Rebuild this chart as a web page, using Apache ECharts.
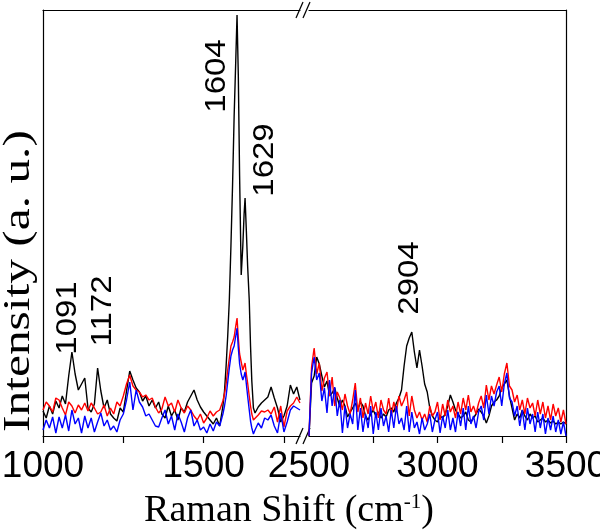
<!DOCTYPE html>
<html>
<head>
<meta charset="utf-8">
<script src="https://cdn.jsdelivr.net/npm/echarts@6/dist/echarts.min.js"></script>
<style>html,body{margin:0;padding:0;background:#fff}#c{width:600px;height:532px}</style>
</head>
<body>
<div id="c"></div>
<script>
// ---- data (intensity in arbitrary units) ----
var leftWavenumbers = [1000,1010,1020,1030,1040,1050,1060,1070,1080,1090,1100,1110,1120,1130,1140,1150,1160,1170,1180,1190,1200,1210,1220,1230,1240,1250,1260,1270,1280,1290,1300,1310,1320,1330,1340,1350,1360,1370,1380,1390,1400,1410,1420,1430,1440,1450,1460,1470,1480,1490,1500,1510,1520,1530,1540,1550,1560,
  1565,1570,1575,1580,1585,1590,1595,1600,1604,1608,1612,1617,1622,1626,1629,1633,1637,1642,1646,1650,1655,
  1660,1670,1680,1690,1700,1710,1720,1730,1740,1750,1760,1770,1780,1790,1800];
var leftBlack = [25,18,30,22,35,28,40,32,60,84,62,46,52,58,28,24,32,68,45,28,36,22,18,15,28,24,45,65,56,48,44,35,40,30,36,28,34,22,18,30,20,26,16,28,24,34,40,46,36,29,24,20,16,12,18,10,30,
  45,70,100,136,190,250,320,375,421,360,260,161,190,222,238,205,170,136,90,55,28,
  23,29,33,36,39,49,38,28,14,20,30,51,42,49,36];
var leftRed = [26,34,30,24,38,36,28,21,34,30,23,31,26,33,25,33,28,22,24,31,20,28,22,34,30,40,52,61,50,46,44,39,41,36,38,29,23,27,39,30,33,24,36,28,23,30,26,20,16,22,13,18,25,20,24,26,35,
  42,52,66,78,90,94,99,110,118,98,82,74,66,70,73,62,53,40,30,22,16,
  18,21,25,24,26,22,29,14,30,9,25,30,33,39,33];
var leftBlue = [6,16,8,19,3,19,8,21,5,26,12,18,3,20,8,18,4,14,23,10,16,6,10,4,16,22,36,54,26,46,34,29,20,22,16,10,9,18,26,12,20,6,22,14,4,18,26,10,16,6,9,3,12,5,14,10,22,
  30,40,54,68,80,86,90,100,108,88,72,62,56,60,64,52,40,26,15,8,2,
  6,13,8,18,16,21,10,3,23,4,14,26,30,28,26];

var rightWavenumbers = [2500,2510,2520,2530,2540,2550,2560,2570,2580,2590,2600,2610,2620,2630,2640,2650,2660,2670,2680,2690,2700,2710,2720,2730,2740,2750,2760,2770,2780,2790,2800,2810,2820,2830,2840,2850,2860,2870,2880,2890,2900,2910,2920,2930,2940,2950,2960,2970,2980,2990,3000,3010,3020,3030,3040,3050,3060,3070,3080,3090,3100,3110,3120,3130,3140,3150,3160,3170,3180,3190,3200,3210,3220,3230,3240,3250,3260,3270,3280,3290,3300,3310,3320,3330,3340,3350,3360,3370,3380,3390,3400,3410,3420,3430,3440,3450,3460,3470,3480,3490,3500];
var rightBlack = [0,53,60,79,72,60,49,55,40,43,48,38,29,36,30,19,24,28,33,26,34,30,20,16,22,26,20,24,18,22,19,26,28,24,33,38,46,70,90,98,104,84,68,86,70,52,44,28,20,16,14,20,18,22,30,41,34,26,22,18,20,24,16,14,18,22,27,24,20,13,20,30,34,36,40,48,52,56,40,28,16,22,18,26,20,16,22,18,20,14,16,18,14,16,13,15,12,14,12,14,12];
var rightRed = [0,69,88,62,73,45,58,64,40,59,30,44,38,26,42,30,22,36,53,24,38,18,33,22,40,25,34,18,36,26,22,38,20,34,24,40,30,36,44,20,40,26,18,24,16,22,14,30,20,24,34,16,32,20,36,24,30,18,34,22,38,26,41,24,30,22,33,40,28,51,36,50,42,51,59,44,62,73,50,46,34,41,26,36,22,38,28,33,20,36,22,34,18,30,16,32,20,28,14,26,12];
var rightBlue = [0,63,79,56,63,35,48,23,56,30,49,20,36,3,30,8,22,12,46,6,28,4,22,8,30,2,24,6,28,10,20,4,26,8,30,12,18,6,30,4,24,8,14,2,18,6,12,22,4,16,24,3,20,8,26,6,18,4,24,10,28,6,30,12,20,8,24,30,16,41,22,40,30,44,50,30,52,63,38,34,20,30,10,26,6,28,12,22,4,24,8,22,2,18,6,20,4,16,2,14,0];

var leftTicks = [1000,1250,1500,1750];
var leftLabels = [1000,1500];
var rightTicks = [2750,3000,3250,3500];
var rightLabels = [2500,3000,3500];
var peakLabels = ['1091','1172','1604','1629','2904'];

// ---- chart ----
function pairs(xs, ys){ return xs.map(function(x,i){ return [x, ys[i]]; }); }
var sans = '"Liberation Sans", Arial, sans-serif';
var serif = '"Liberation Serif", "Times New Roman", serif';
var lineW = 1.4;

function xAx(gi, min, max, ticks, labels){
  return {
    type:'value', gridIndex:gi, min:min, max:max, position:'bottom',
    axisLine:{show:true, onZero:false, lineStyle:{color:'#000', width:1.2}},
    axisTick:{show:true, inside:false, length:7, customValues:ticks, lineStyle:{color:'#000', width:1.2}},
    axisLabel:{show:true, customValues:labels, color:'#000', fontFamily:sans, fontSize:37, margin:12,
      formatter:function(v){ return String(v); }},
    splitLine:{show:false}
  };
}
function xTop(gi, min, max){
  return {type:'value', gridIndex:gi, min:min, max:max, position:'top',
    axisLine:{show:true, onZero:false, lineStyle:{color:'#000', width:1.2}},
    axisTick:{show:false}, axisLabel:{show:false}, splitLine:{show:false}};
}
function yAx(gi, pos){
  return {type:'value', gridIndex:gi, min:0, max:426, position:pos,
    axisLine:{show:true, onZero:false, lineStyle:{color:'#000', width:1.2}},
    axisTick:{show:false}, axisLabel:{show:false}, splitLine:{show:false}};
}
function ser(gi, xs, ys, color){
  return {type:'line', xAxisIndex:gi, yAxisIndex:gi, data:pairs(xs, ys), symbol:'none',
    lineStyle:{color:color, width:lineW}, itemStyle:{color:color}, animation:false, silent:true};
}
function slash(x, y){
  return {type:'line', shape:{x1:x, y1:y+8, x2:x+7, y2:y-8}, style:{stroke:'#000', lineWidth:1.2}};
}
function rotText(txt, x, y){
  return {type:'text', x:x, y:y, rotation:Math.PI/2, scaleX:1.1,
    style:{text:txt, fill:'#000', font:'30px ' + sans, align:'center', verticalAlign:'middle'}};
}

var chart = echarts.init(document.getElementById('c'), null, {renderer:'canvas'});
chart.setOption({
  animation:false,
  backgroundColor:'#fff',
  grid:[
    {left:43, top:10, width:257, height:426, containLabel:false, outerBoundsMode:'none'},
    {left:309, top:10, width:257, height:426, containLabel:false, outerBoundsMode:'none'}
  ],
  xAxis:[
    xAx(0, 1000, 1800, leftTicks, leftLabels),
    xAx(1, 2500, 3500, rightTicks, rightLabels),
    xTop(0, 1000, 1800),
    xTop(1, 2500, 3500)
  ],
  yAxis:[ yAx(0, 'left'), yAx(1, 'right') ],
  series:[
    ser(0, leftWavenumbers, leftBlack, '#000000'),
    ser(0, leftWavenumbers, leftRed, '#ff0000'),
    ser(0, leftWavenumbers, leftBlue, '#0000ff'),
    ser(1, rightWavenumbers, rightBlack, '#000000'),
    ser(1, rightWavenumbers, rightRed, '#ff0000'),
    ser(1, rightWavenumbers, rightBlue, '#0000ff')
  ],
  graphic:[
    slash(296, 10), slash(303, 10),
    slash(296, 436), slash(303, 436),
    {type:'text', x:289, y:511,
      style:{text:'Raman Shift (cm{s|-1})', fill:'#000', font:'38px ' + serif, align:'center', verticalAlign:'middle',
        rich:{s:{fontSize:21, fontFamily:serif, verticalAlign:'top', padding:[0,0,17,0]}}}},
    {type:'text', x:19, y:281, rotation:Math.PI/2, scaleX:1.3,
      style:{text:'Intensity (a. u.)', fill:'#000', font:'38px ' + serif, align:'center', verticalAlign:'middle'}},
    rotText(peakLabels[0], 68, 318),
    rotText(peakLabels[1], 103, 311),
    rotText(peakLabels[2], 217, 76),
    rotText(peakLabels[3], 265, 160),
    rotText(peakLabels[4], 410, 278)
  ]
});
</script>
</body>
</html>
